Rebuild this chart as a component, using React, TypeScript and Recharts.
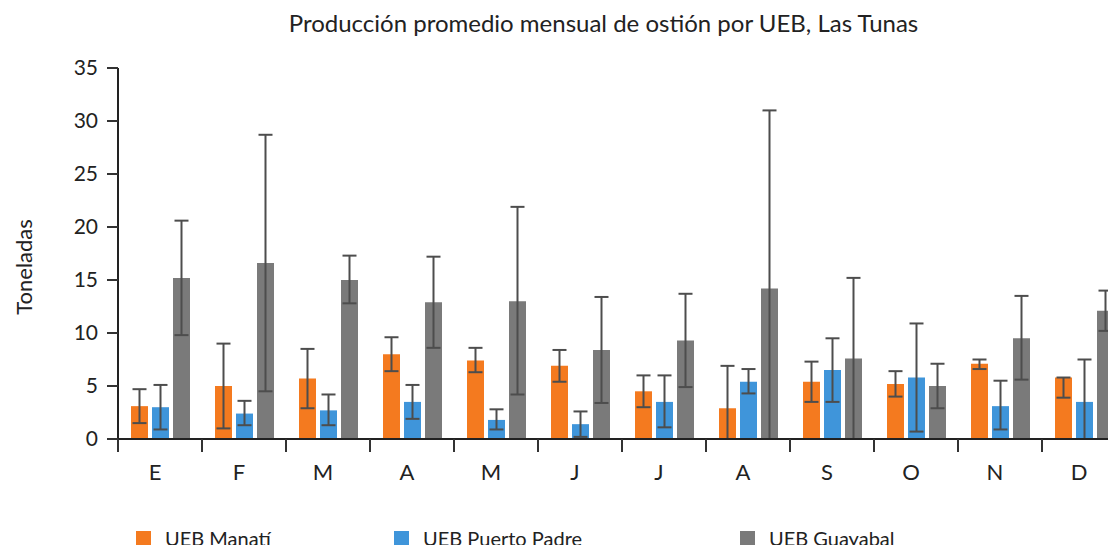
import { BarChart, Bar, XAxis, YAxis, ErrorBar } from 'recharts';

// ============================================
// Data
// ============================================

const months = ['E', 'F', 'M', 'A', 'M', 'J', 'J', 'A', 'S', 'O', 'N', 'D'];
const yTicks = [0, 5, 10, 15, 20, 25, 30, 35];

const manati = [3.1, 5.0, 5.7, 8.0, 7.4, 6.9, 4.5, 2.9, 5.4, 5.2, 7.1, 5.8];
const puertoPadre = [3.0, 2.4, 2.7, 3.5, 1.8, 1.4, 3.5, 5.4, 6.5, 5.8, 3.1, 3.5];
const guayabal = [15.2, 16.6, 15.0, 12.9, 13.0, 8.4, 9.3, 14.2, 7.6, 5.0, 9.5, 12.1];

// error below / above the mean
const manatiErr = [[1.6, 1.6], [4.0, 4.0], [2.8, 2.8], [1.6, 1.6], [1.1, 1.2], [1.5, 1.5], [1.5, 1.5], [2.9, 4.0], [1.9, 1.9], [1.2, 1.2], [0.5, 0.4], [1.9, 0]];
const puertoPadreErr = [[2.1, 2.1], [1.1, 1.2], [1.4, 1.5], [1.6, 1.6], [0.9, 1.0], [1.2, 1.2], [2.4, 2.5], [1.1, 1.2], [3.0, 3.0], [5.1, 5.1], [2.2, 2.4], [3.5, 4.0]];
const guayabalErr = [[5.4, 5.4], [12.1, 12.1], [2.2, 2.3], [4.3, 4.3], [8.8, 8.9], [5.0, 5.0], [4.4, 4.4], [14.2, 16.8], [7.6, 7.6], [2.1, 2.1], [3.9, 4.0], [1.9, 1.9]];

const series = [
  { key: 'manati', name: 'UEB Manatí', color: '#F47A1F', values: manati, errors: manatiErr },
  { key: 'puerto', name: 'UEB Puerto Padre', color: '#3F95DA', values: puertoPadre, errors: puertoPadreErr },
  { key: 'guayabal', name: 'UEB Guayabal', color: '#7A7A7A', values: guayabal, errors: guayabalErr },
];

const data = months.map((month, i) => {
  const row: Record<string, unknown> = { month };
  series.forEach((s) => {
    row[s.key] = s.values[i];
    row[`${s.key}Err`] = s.errors[i];
  });
  return row;
});

const FONT = 'Lato, "Open Sans", sans-serif';
const TICK_SIZE = 13;
const TICK_MARGIN = 12;
const legendLeft = [136, 394, 740];

// month label, plus a tick mark on the left edge of each month band
// eslint-disable-next-line @typescript-eslint/no-explicit-any
function MonthTick(props: any) {
  const { x, y, payload, width, visibleTicksCount } = props;
  const half = payload?.offset ?? width / (visibleTicksCount || 12) / 2;
  const axisY = y - TICK_SIZE - TICK_MARGIN;
  const edge = x - half;
  return (
    <g>
      <line x1={edge} y1={axisY} x2={edge} y2={axisY + TICK_SIZE} stroke="#333" strokeWidth={2} />
      <text x={x - 5} y={y} dy="0.71em" textAnchor="middle" fontSize={22} fill="#222" fontFamily={FONT}>
        {payload.value}
      </text>
    </g>
  );
}

function YLabel() {
  return (
    <text
      transform="translate(23,267) rotate(-90)"
      textAnchor="middle"
      dominantBaseline="central"
      fontSize={22}
      fill="#222"
      fontFamily={FONT}
    >
      Toneladas
    </text>
  );
}

export default function App() {
  return (
    <div
      style={{
        position: 'relative',
        width: 1116,
        height: 553,
        margin: -8,
        overflow: 'hidden',
        background: '#fff',
        fontFamily: FONT,
      }}
    >
      <div
        style={{
          position: 'absolute',
          top: 8,
          left: 0,
          width: 1207,
          textAlign: 'center',
          fontSize: 24,
          color: '#222',
        }}
      >
        Producción promedio mensual de ostión por UEB, Las Tunas
      </div>

      <BarChart
        width={1130}
        height={553}
        data={data}
        margin={{ top: 68, right: 4, bottom: 74, left: 0 }}
        barSize={17}
        barGap={4}
      >
        <XAxis
          dataKey="month"
          height={40}
          interval={0}
          axisLine={{ stroke: '#222', strokeWidth: 2 }}
          tickLine={false}
          tickSize={TICK_SIZE}
          tickMargin={TICK_MARGIN}
          tick={<MonthTick />}
        />
        <YAxis
          width={118}
          domain={[0, 35]}
          ticks={yTicks}
          interval={0}
          tickSize={11}
          tickMargin={9}
          axisLine={{ stroke: '#222', strokeWidth: 2 }}
          tickLine={{ stroke: '#333', strokeWidth: 2 }}
          tick={{ fontSize: 21, fill: '#222', fontFamily: FONT }}
          label={<YLabel />}
        />
        {series.map((s) => (
          <Bar
            key={s.key}
            dataKey={s.key}
            name={s.name}
            fill={s.color}
            isAnimationActive={false}
          >
            <ErrorBar
              dataKey={`${s.key}Err`}
              direction="y"
              width={7}
              stroke="#4d4d4d"
              strokeWidth={2}
              isAnimationActive={false}
            />
          </Bar>
        ))}
      </BarChart>

      <div style={{ position: 'absolute', top: 526, left: 0, width: 1116, height: 27 }}>
        {series.map((s, i) => (
          <div
            key={s.key}
            style={{
              position: 'absolute',
              left: legendLeft[i],
              top: 0,
              display: 'flex',
              alignItems: 'center',
              fontSize: 20,
              lineHeight: '24px',
              color: '#222',
              whiteSpace: 'nowrap',
            }}
          >
            <span style={{ display: 'inline-block', width: 15, height: 15, background: s.color, marginRight: 14 }} />
            {s.name}
          </div>
        ))}
      </div>
    </div>
  );
}
